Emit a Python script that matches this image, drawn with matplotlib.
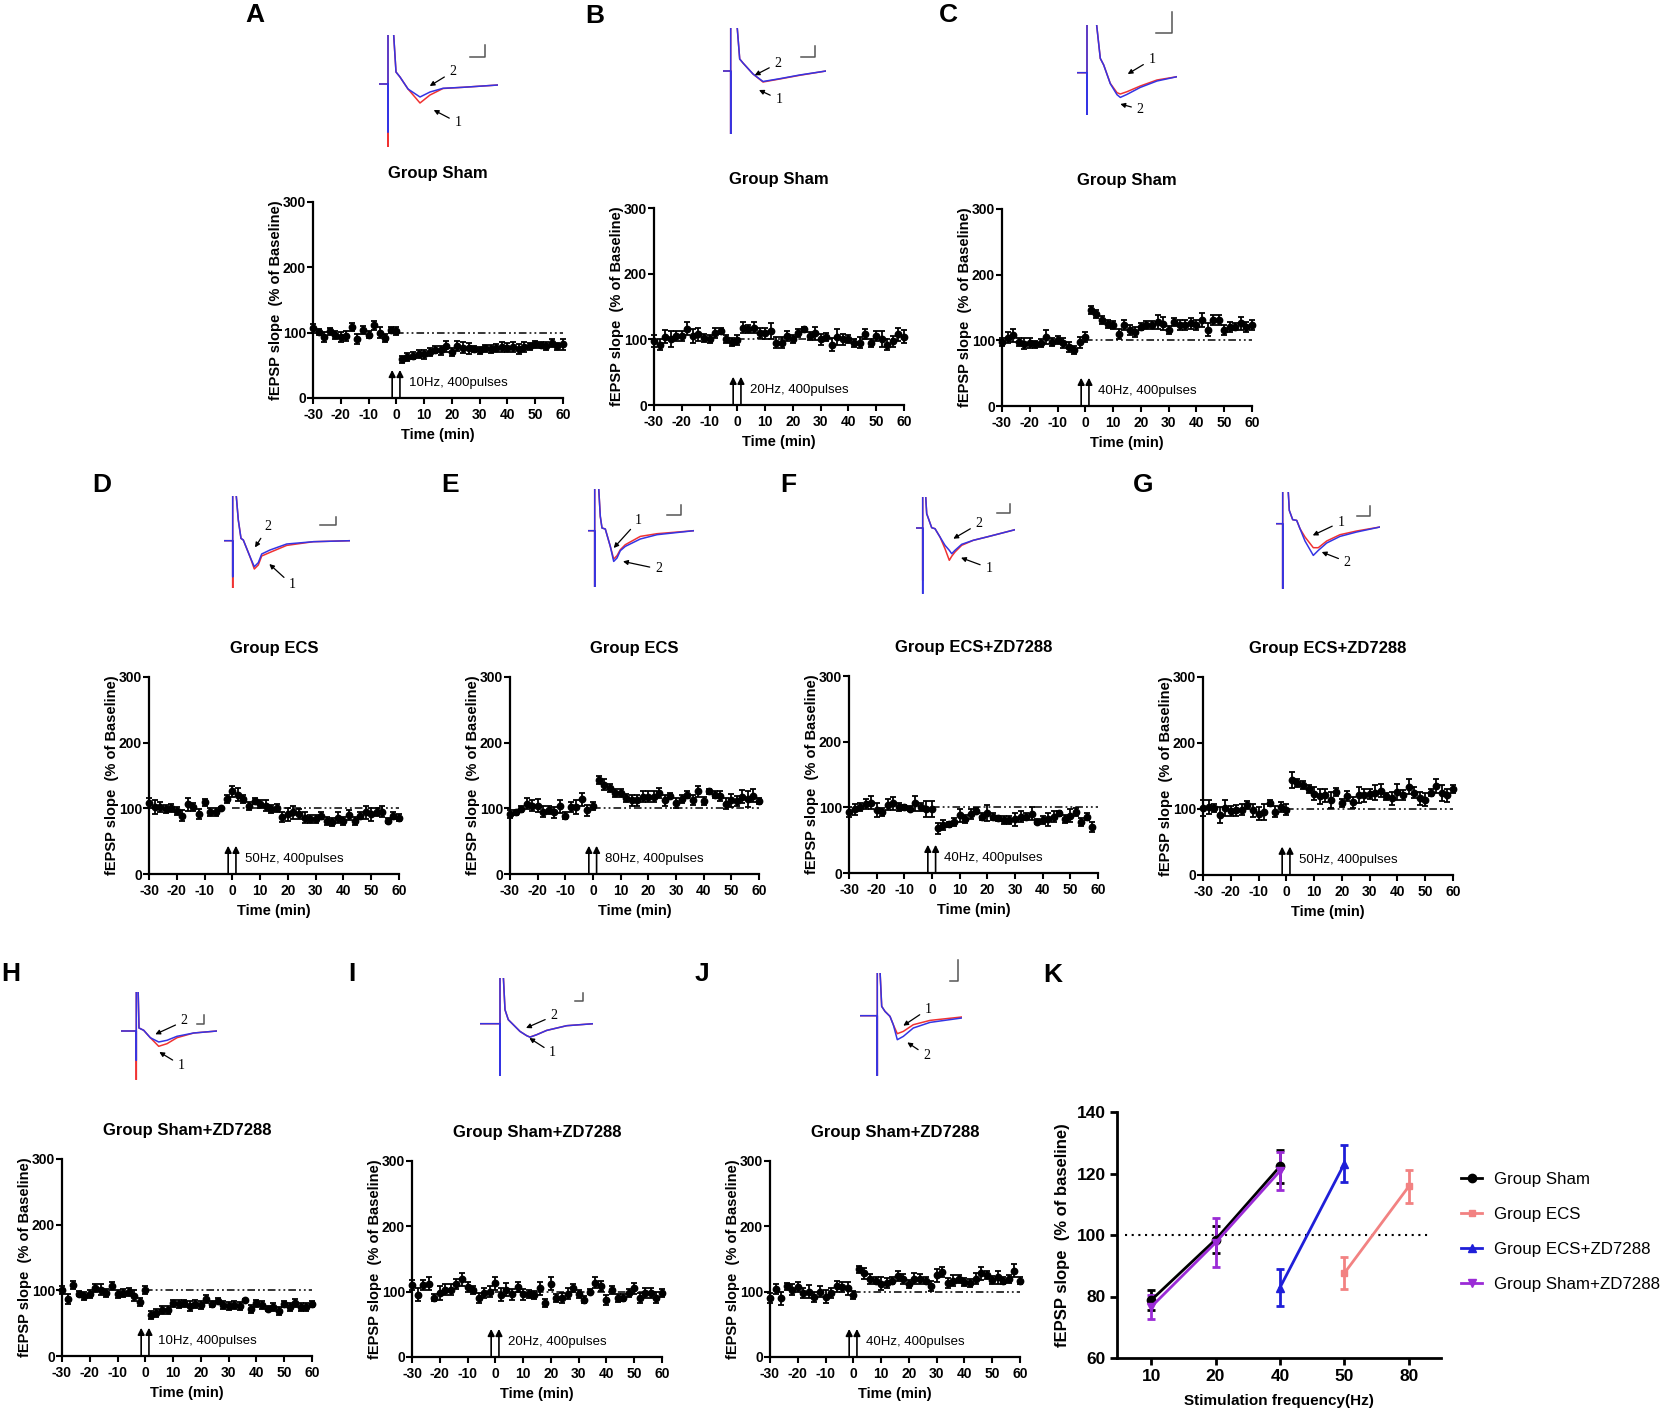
import matplotlib
matplotlib.use("Agg")
import matplotlib.pyplot as plt

W, H = 1666, 1421

# time points (min) of the LTP / LTD recordings
TIME_MIN = [-30, -28, -26, -24, -22, -20, -18, -16, -14, -12, -10, -8, -6, -4, -2, 0,
            2, 4, 6, 8, 10, 12, 14, 16, 18, 20, 22, 24, 26, 28, 30, 32, 34, 36, 38, 40,
            42, 44, 46, 48, 50, 52, 54, 56, 58, 60]
ARROW_X = [-1.5, 1.3]

A_MEAN = [107, 101, 93, 102, 97, 93, 95, 109, 90, 104, 97, 111, 100, 92, 104, 103,
          59, 63, 65, 67, 67, 70, 74, 73, 79, 71, 80, 77, 76, 75, 73, 76, 75, 77, 78, 77,
          78, 75, 78, 79, 82, 81, 79, 84, 79, 82]
A_SEM = [7, 5, 8, 5, 6, 8, 8, 6, 8, 6, 5, 7, 8, 6, 4, 6,
         5, 6, 6, 6, 7, 6, 5, 7, 8, 6, 8, 8, 8, 5, 5, 5, 6, 6, 8, 7, 7, 8, 8, 5, 6, 5, 6, 6, 5, 8]
B_MEAN = [97, 92, 104, 101, 105, 105, 116, 105, 108, 102, 100, 110, 113, 100, 96, 99,
          118, 116, 118, 110, 109, 113, 95, 95, 105, 100, 110, 115, 105, 109, 100, 103, 92, 104,
          100, 100, 95, 95, 108, 95, 105, 101, 92, 97, 108, 104]
B_SEM = [9, 8, 10, 12, 8, 8, 10, 10, 10, 6, 6, 8, 5, 6, 6, 8,
         8, 6, 8, 8, 8, 12, 8, 8, 8, 6, 6, 4, 6, 10, 8, 6, 10, 12, 8, 6, 6, 8, 8, 6, 8, 12, 8, 8, 10, 10]
C_MEAN = [97, 104, 108, 97, 95, 96, 94, 96, 105, 97, 101, 96, 90, 85, 97, 105,
          146, 140, 131, 125, 124, 110, 123, 116, 113, 121, 124, 123, 128, 125, 116, 128, 123, 123,
          126, 123, 131, 116, 131, 131, 116, 120, 121, 126, 120, 123]
C_SEM = [6, 8, 10, 6, 8, 8, 5, 6, 10, 6, 6, 8, 8, 6, 8, 8,
         6, 6, 6, 6, 6, 8, 8, 8, 8, 6, 6, 6, 10, 10, 6, 6, 8, 8, 8, 8, 10, 10, 8, 8, 8, 8, 6, 10, 8, 8]
D_MEAN = [108, 102, 102, 99, 100, 96, 89, 106, 102, 91, 109, 94, 94, 100, 114, 126,
          121, 114, 104, 111, 107, 104, 99, 100, 87, 91, 94, 91, 86, 84, 84, 89, 81, 79,
          86, 81, 90, 81, 89, 94, 91, 94, 95, 81, 89, 86]
D_SEM = [8, 10, 8, 6, 6, 6, 8, 10, 6, 8, 5, 6, 6, 2, 6, 8,
         10, 6, 6, 4, 6, 8, 6, 6, 8, 10, 10, 8, 8, 6, 6, 6, 6, 6, 8, 6, 8, 6, 6, 10, 10, 6, 8, 4, 6, 6]
E_MEAN = [91, 94, 99, 107, 104, 104, 95, 97, 94, 103, 89, 102, 102, 114, 97, 103,
          143, 136, 131, 123, 124, 116, 112, 112, 118, 118, 118, 123, 112, 119, 108, 114, 121, 113,
          126, 111, 126, 121, 119, 107, 112, 111, 118, 114, 119, 111]
E_SEM = [6, 4, 4, 8, 8, 10, 8, 6, 8, 10, 6, 8, 10, 10, 8, 6,
         6, 8, 6, 6, 6, 6, 8, 8, 8, 8, 8, 8, 8, 4, 8, 6, 6, 8, 8, 6, 4, 6, 8, 8, 10, 8, 10, 12, 10, 4]
F_MEAN = [93, 97, 101, 105, 107, 96, 93, 104, 106, 101, 100, 98, 106, 101, 97, 97,
          68, 73, 74, 78, 88, 82, 90, 95, 86, 91, 86, 83, 81, 81, 82, 86, 86, 90,
          78, 81, 82, 86, 91, 82, 87, 93, 77, 86, 70]
F_SEM = [8, 8, 6, 8, 10, 10, 6, 8, 10, 6, 4, 4, 12, 6, 12, 12,
         8, 8, 4, 6, 10, 6, 8, 4, 6, 12, 6, 4, 6, 6, 10, 8, 6, 10, 4, 6, 10, 8, 4, 6, 10, 6, 6, 6, 8]
G_MEAN = [101, 103, 101, 91, 101, 97, 98, 99, 106, 98, 93, 96, 109, 96, 103, 99,
          144, 139, 136, 131, 123, 119, 121, 114, 126, 109, 120, 110, 121, 121, 123, 125, 128, 119,
          116, 126, 121, 134, 125, 116, 114, 125, 135, 124, 121, 131]
G_SEM = [12, 10, 6, 12, 12, 8, 8, 8, 6, 10, 10, 12, 4, 8, 8, 8,
         12, 6, 6, 6, 10, 12, 10, 12, 6, 6, 8, 8, 12, 10, 8, 12, 10, 6, 10, 12, 8, 12, 8, 10, 10, 6, 10, 12, 10, 6]
H_MEAN = [101, 87, 108, 95, 91, 95, 103, 101, 96, 106, 95, 96, 97, 92, 82, 100,
          62, 65, 70, 70, 80, 79, 80, 76, 79, 77, 87, 79, 84, 77, 76, 77, 76, 85,
          71, 80, 77, 72, 75, 69, 79, 75, 81, 75, 75, 79]
H_SEM = [6, 8, 6, 4, 6, 6, 6, 8, 6, 6, 6, 6, 6, 8, 6, 6,
         6, 6, 6, 6, 6, 6, 6, 8, 6, 6, 6, 4, 4, 6, 6, 6, 6, 2, 6, 6, 6, 4, 6, 6, 4, 6, 6, 6, 6, 4]
I_MEAN = [110, 95, 110, 112, 91, 98, 103, 103, 112, 119, 107, 103, 90, 98, 100, 113,
          95, 103, 96, 107, 96, 96, 95, 105, 83, 112, 90, 90, 97, 105, 97, 88, 100, 114,
          109, 87, 103, 90, 91, 98, 105, 90, 98, 98, 91, 98]
I_SEM = [8, 10, 8, 10, 6, 10, 8, 8, 8, 10, 8, 6, 8, 8, 8, 10,
         10, 10, 8, 8, 8, 6, 6, 10, 6, 10, 6, 8, 8, 6, 6, 6, 4, 8, 8, 8, 6, 6, 6, 6, 8, 8, 8, 8, 8, 6]
J_MEAN = [90, 104, 90, 108, 103, 107, 98, 100, 92, 100, 92, 98, 108, 107, 105, 95,
          134, 128, 119, 117, 112, 113, 117, 124, 119, 112, 120, 119, 117, 109, 125, 130, 113, 117,
          120, 115, 113, 120, 128, 125, 118, 122, 117, 120, 132, 117]
J_SEM = [8, 8, 10, 6, 8, 8, 8, 10, 8, 8, 10, 8, 8, 8, 10, 6,
         6, 8, 8, 6, 10, 8, 6, 8, 8, 6, 8, 8, 6, 8, 10, 8, 8, 8, 6, 6, 6, 8, 10, 6, 6, 10, 6, 6, 10, 6]

# sample fEPSP traces (time, trace 1 = before, trace 2 = after)
TRACE_A_T = [0, 9, 9, 9, 14, 17, 21, 29, 41, 51, 64, 84, 119]
TRACE_A_1 = [0, 0, -63, 60, 60, 12, 7, -5, -19, -11, -4.5, -3.3, -1]
TRACE_A_2 = [0, 0, -48, 60, 60, 12, 7, -5, -13, -8, -4.3, -3.3, -1]
TRACE_B_T = [0, 7.7, 7.7, 7.7, 13.3, 16.7, 20, 30, 40, 56.7, 76.7, 103]
TRACE_B_1 = [0, 0, -63, 55, 55, 12, 8, -3, -11, -8, -4.3, 0]
TRACE_B_2 = [0, 0, -63, 55, 55, 12, 8, -3, -10.5, -7.7, -4, 0]
TRACE_C_T = [0, 10, 10, 10, 18.3, 23.3, 26.7, 33.3, 40, 43.3, 50, 63.3, 80, 100]
TRACE_C_1 = [0, 0, -42, 60, 60, 14.3, 7.7, -10.7, -20, -21.3, -19, -13.3, -7.3, -4]
TRACE_C_2 = [0, 0, -42, 60, 60, 14.3, 7.7, -11, -22, -24.7, -21.7, -14.7, -8.3, -4]
TRACE_D_T = [0, 8.7, 8.7, 8.7, 11, 14.3, 17, 19.3, 26, 30.3, 34.3, 37.7, 46, 62.7, 89.3, 126]
TRACE_D_1 = [0, 0, -47.7, 60, 60, 20.7, 2.3, 0.7, -16, -28.3, -24.3, -15.3, -11.7, -4.7, -1, 0]
TRACE_D_2 = [0, 0, -36, 60, 60, 20.7, 2.3, 0.7, -16, -26, -22, -13.3, -9.3, -3.3, -1, 0]
TRACE_E_T = [0, 6.7, 6.7, 6.7, 9.7, 12.3, 14, 17.3, 22.3, 25.7, 29, 32.3, 37.3, 52.3, 69, 105.7]
TRACE_E_1 = [0, 0, -56.3, 60, 60, 14.3, 2.7, 1.7, -15.7, -28.3, -25, -19, -14, -5.7, -3, 0]
TRACE_E_2 = [0, 0, -56.3, 60, 60, 14.3, 2.7, 1.7, -15.7, -30.7, -27.3, -20, -15.7, -8.3, -4, 0]
TRACE_F_T = [0, 6.7, 6.7, 6.7, 8, 10.7, 15.7, 19, 24, 29, 33.3, 35.7, 39, 45.7, 57.3, 70.7, 99]
TRACE_F_1 = [0, 0, -52.3, 60, 60, 14.3, 0.3, -0.7, -9, -20.7, -32.3, -28.3, -24, -17.3, -12.3, -9, -1.7]
TRACE_F_2 = [0, 0, -65.7, 60, 60, 14.3, 0.3, -0.7, -9, -17.3, -22.3, -25.7, -22.3, -16.3, -12.3, -9, -1.7]
TRACE_G_T = [0, 6.7, 6.7, 6.7, 10.7, 13.3, 16.7, 20.7, 24, 29, 37.3, 42.3, 50.7, 64, 80.7, 104]
TRACE_G_1 = [0, 0, -65, 60, 60, 13.3, 4, 3.3, -5, -13.3, -24, -24, -17.3, -11, -7.3, -3.3]
TRACE_G_2 = [0, 0, -65, 60, 60, 13.3, 4, 3.3, -5, -17.3, -31.7, -26.7, -19.3, -12.7, -8.3, -3.3]
TRACE_H_T = [0, 15.3, 15.3, 15.3, 16.7, 18, 22.7, 29.3, 37.7, 46, 56, 72.7, 96]
TRACE_H_1 = [0, 0, -48.7, 60, 60, 3, 0.7, -6.7, -15.3, -12.7, -6.7, -2, 0]
TRACE_H_2 = [0, 0, -29.3, 60, 60, 3, 0.7, -6.7, -11, -9.3, -5.3, -2, 0]
TRACE_I_T = [0, 20, 20, 20, 22.7, 25, 28.3, 33.3, 40, 46.7, 50, 56.7, 66.7, 86.7, 113.3]
TRACE_I_1 = [0, 0, -39.3, 60, 60, 14, 4, -1, -7.7, -12, -13.3, -11, -6.7, -2, 0]
TRACE_I_2 = [0, 0, -52, 60, 60, 14, 4, -1, -7.7, -12, -13.5, -11, -6.7, -2, 0]
TRACE_J_T = [0, 17.3, 17.3, 17.3, 19.3, 21.7, 25, 30, 33.3, 37.3, 43.3, 53.3, 70, 101.7]
TRACE_J_1 = [0, 0, -60, 60, 60, 9.3, 4.3, -0.7, -9, -18, -15.7, -9, -4.7, -1.3]
TRACE_J_2 = [0, 0, -60, 60, 60, 9.3, 4.3, -0.7, -9, -24, -20.7, -12.3, -6.7, -2.3]

# panel K: summary vs stimulation frequency
K_FREQ = [10, 20, 40, 50, 80]
SHAM_FREQ = [10, 20, 40]
SHAM_K = [78.8, 98.5, 122.3]
SHAM_K_SEM = [3.3, 4.4, 5.5]
ECS_FREQ = [50, 80]
ECS_K = [87.6, 115.8]
ECS_K_SEM = [5.3, 5.5]
ECSZD_FREQ = [40, 50]
ECSZD_K = [82.9, 123.2]
ECSZD_K_SEM = [6.0, 6.0]
SHAMZD_FREQ = [10, 20, 40]
SHAMZD_K = [76.6, 97.5, 120.8]
SHAMZD_K_SEM = [3.8, 8.0, 6.2]

plt.rcParams['font.family'] = ['Liberation Sans', 'DejaVu Sans']
plt.rcParams['axes.unicode_minus'] = False

RED = '#f03232'
BLUE = '#3434e4'

fig = plt.figure(figsize=(W / 100, H / 100), dpi=100)


def px_axes(x0, y0, x1, y1):
    return fig.add_axes([x0 / W, 1 - y1 / H, (x1 - x0) / W, (y1 - y0) / H])


def time_panel(rect, mean, sem, title, stim):
    ax = px_axes(*rect)
    t = TIME_MIN[:len(mean)]
    eb = ax.errorbar(t, mean, yerr=sem, fmt='o', color='k', ms=4.6,
                     elinewidth=1.3, capsize=1.9, capthick=1.3, zorder=3)
    for art in eb.get_children():
        art.set_clip_on(False)
    ax.plot([0, 60], [100, 100], color='k', lw=1.1,
            ls=(0, (5, 2, 1.2, 2, 1.2, 2)), zorder=2)
    for xa in ARROW_X:
        ax.annotate('', xy=(xa, 43), xytext=(xa, 0),
                    arrowprops=dict(arrowstyle='-|>', color='k', lw=1.2,
                                    mutation_scale=10, shrinkA=0, shrinkB=0))
    ax.text(4.5, 23, stim, fontsize=9.5, va='center')
    ax.set_xlim(-30, 60)
    ax.set_ylim(0, 300)
    ax.set_xticks([-30, -20, -10, 0, 10, 20, 30, 40, 50, 60])
    ax.set_yticks([0, 100, 200, 300])
    for s in ['top', 'right']:
        ax.spines[s].set_visible(False)
    for s in ['left', 'bottom']:
        ax.spines[s].set_linewidth(1.6)
    ax.tick_params(width=1.5, length=4, labelsize=10)
    ax.tick_params(axis='x', pad=3.5)
    ax.tick_params(axis='y', pad=1)
    for lab in ax.get_xticklabels() + ax.get_yticklabels():
        lab.set_fontweight('bold')
    ax.set_xlabel('Time (min)', fontsize=10.5, fontweight='bold', labelpad=4)
    ax.set_ylabel('fEPSP slope  (% of Baseline)', fontsize=10.5,
                  fontweight='bold', labelpad=0)
    ax.set_title(title, fontsize=12, fontweight='bold', pad=17)
    return ax


def trace_inset(left, top, ylim, t, v1, v2, ann, bar):
    height = ylim[1] - ylim[0]
    ax = fig.add_axes([left / W, 1 - (top + height) / H, t[-1] / W, height / H])
    ax.plot(t, v1, color=RED, lw=1.1)
    ax.plot(t, v2, color=BLUE, lw=1.1)
    ax.set_xlim(0, t[-1])
    ax.set_ylim(*ylim)
    ax.axis('off')
    for txt, head, pos in ann:
        ax.annotate(txt, xy=head, xytext=pos, fontsize=10, family='Liberation Serif',
                    ha='center', va='center',
                    arrowprops=dict(arrowstyle='-|>', color='k', lw=0.9,
                                    mutation_scale=7, shrinkA=2, shrinkB=0))
    x0, x1, yb, yt = bar
    ax.plot([x0, x1, x1], [yb, yb, yt], color='#555555', lw=1.1, clip_on=False)


panels = [
    ((313, 202, 563, 398), A_MEAN, A_SEM, 'Group Sham', '10Hz, 400pulses'),
    ((654, 208, 904, 405), B_MEAN, B_SEM, 'Group Sham', '20Hz, 400pulses'),
    ((1002, 209, 1252, 406), C_MEAN, C_SEM, 'Group Sham', '40Hz, 400pulses'),
    ((149, 677, 399, 874), D_MEAN, D_SEM, 'Group ECS', '50Hz, 400pulses'),
    ((510, 677, 759, 874), E_MEAN, E_SEM, 'Group ECS', '80Hz, 400pulses'),
    ((849, 676, 1098, 873), F_MEAN, F_SEM, 'Group ECS+ZD7288', '40Hz, 400pulses'),
    ((1203, 677, 1453, 875), G_MEAN, G_SEM, 'Group ECS+ZD7288', '50Hz, 400pulses'),
    ((62, 1159, 312, 1356), H_MEAN, H_SEM, 'Group Sham+ZD7288', '10Hz, 400pulses'),
    ((412, 1161, 662, 1357), I_MEAN, I_SEM, 'Group Sham+ZD7288', '20Hz, 400pulses'),
    ((770, 1161, 1020, 1357), J_MEAN, J_SEM, 'Group Sham+ZD7288', '40Hz, 400pulses'),
]
for rect, m, s, title, stim in panels:
    time_panel(rect, m, s, title, stim)

insets = [
    (379, 35, (-63, 49), TRACE_A_T, TRACE_A_1, TRACE_A_2,
     [('2', (50.7, -2), (74, 12.3)), ('1', (54.7, -26), (79, -38.7))], (90.7, 105.7, 27.3, 39)),
    (723, 28, (-63, 43), TRACE_B_T, TRACE_B_1, TRACE_B_2,
     [('2', (31.7, -4.3), (55, 7.7)), ('1', (36, -19), (56, -28.3))], (78.3, 91.7, 14.3, 25)),
    (1077, 25, (-42.3, 47.7), TRACE_C_T, TRACE_C_1, TRACE_C_2,
     [('1', (50.7, -1.3), (75, 13.3)), ('2', (43.3, -31.3), (63.3, -36.7))], (79.3, 95, 39.3, 61)),
    (224, 496, (-47.7, 44.7), TRACE_D_T, TRACE_D_1, TRACE_D_2,
     [('2', (31, -6.7), (44.3, 14)), ('1', (45.3, -23.3), (68.3, -44.3))], (96, 111.7, 15.7, 24)),
    (588, 489, (-56.3, 41.7), TRACE_E_T, TRACE_E_1, TRACE_E_2,
     [('1', (25.7, -17.3), (50.7, 10.3)), ('2', (35, -30.7), (70.7, -38.3))], (79, 93, 16, 26)),
    (916, 497, (-65.7, 31), TRACE_F_T, TRACE_F_1, TRACE_F_2,
     [('2', (37.3, -10.7), (63, 4.3)), ('1', (45, -29.7), (73, -40))], (80.7, 94, 15, 24.3)),
    (1276, 492, (-65, 31.7), TRACE_G_T, TRACE_G_1, TRACE_G_2,
     [('1', (36.7, -11.7), (65, 1.7)), ('2', (45.7, -28.3), (71.3, -38.3))], (80.7, 94, 7.3, 17.3)),
    (121, 992, (-48.7, 39), TRACE_H_T, TRACE_H_1, TRACE_H_2,
     [('2', (34.3, -3.3), (63.3, 10)), ('1', (38.3, -21), (60.3, -34.3))], (76, 82.7, 7.3, 15.7)),
    (480, 978, (-52, 45.7), TRACE_I_T, TRACE_I_1, TRACE_I_2,
     [('2', (46, -4.3), (74, 8)), ('1', (49.3, -14.3), (72.7, -29.3))], (95, 103.3, 22.3, 30.7)),
    (860, 973, (-60, 42.7), TRACE_J_T, TRACE_J_1, TRACE_J_2,
     [('1', (43.3, -10), (68.3, 6.7)), ('2', (47.3, -26.7), (66.7, -39.7))], (90, 98.3, 34.3, 56)),
]
for left, top, ylim, t, v1, v2, ann, bar in insets:
    trace_inset(left, top, ylim, t, v1, v2, ann, bar)

# panel K
axk = px_axes(1117, 1112, 1441, 1358)
series = [
    ('Group Sham', SHAM_FREQ, SHAM_K, SHAM_K_SEM, 'k', 'o', 6),
    ('Group ECS', ECS_FREQ, ECS_K, ECS_K_SEM, '#f28282', 's', 4),
    ('Group ECS+ZD7288', ECSZD_FREQ, ECSZD_K, ECSZD_K_SEM, '#1f1fd8', '^', 6),
    ('Group Sham+ZD7288', SHAMZD_FREQ, SHAMZD_K, SHAMZD_K_SEM, '#9b2bd6', 'v', 6),
]
for label, freqs, vals, err, col, mk, ms in series:
    xs = [K_FREQ.index(f) for f in freqs]
    axk.errorbar(xs, vals, yerr=err, fmt='none', ecolor=col, elinewidth=2,
                 capsize=3, capthick=2, zorder=3)
    axk.plot(xs, vals, color=col, marker=mk, ms=ms, lw=2, label=label, zorder=4)
axk.plot([-0.4, 4.35], [100, 100], color='k', lw=1.5, ls=(0, (1, 2.2)), zorder=1)
axk.set_xlim(-0.53, 4.5)
axk.set_ylim(60, 140)
axk.set_xticks(range(len(K_FREQ)))
axk.set_xticklabels([str(f) for f in K_FREQ])
axk.set_yticks([60, 80, 100, 120, 140])
for s in ['top', 'right']:
    axk.spines[s].set_visible(False)
for s in ['left', 'bottom']:
    axk.spines[s].set_linewidth(2)
axk.tick_params(width=2, length=5, labelsize=12.5, pad=3)
for lab in axk.get_xticklabels() + axk.get_yticklabels():
    lab.set_fontweight('bold')
axk.set_xlabel('Stimulation frequency(Hz)', fontsize=11, fontweight='bold', labelpad=7)
axk.set_ylabel('fEPSP slope  (% of baseline)', fontsize=12, fontweight='bold', labelpad=5)
axk.legend(loc='upper left', bbox_to_anchor=(1461 / W, 1 - 1172 / H),
           bbox_transform=fig.transFigure, frameon=False,
           fontsize=12.2, handlelength=1.25, handletextpad=0.7,
           labelspacing=1.18, borderaxespad=0, borderpad=0)

# panel letters
letters = [('A', 255, 15), ('B', 595, 16), ('C', 948, 15), ('D', 102, 485),
           ('E', 450, 485), ('F', 788, 485), ('G', 1143, 485), ('H', 11, 974),
           ('I', 352, 974), ('J', 702, 974), ('K', 1053, 975)]
for txt, x, y in letters:
    fig.text(x / W, 1 - y / H, txt, fontsize=19, fontweight='bold',
             ha='center', va='center')

fig.savefig('out.png', dpi=100, facecolor='white')
